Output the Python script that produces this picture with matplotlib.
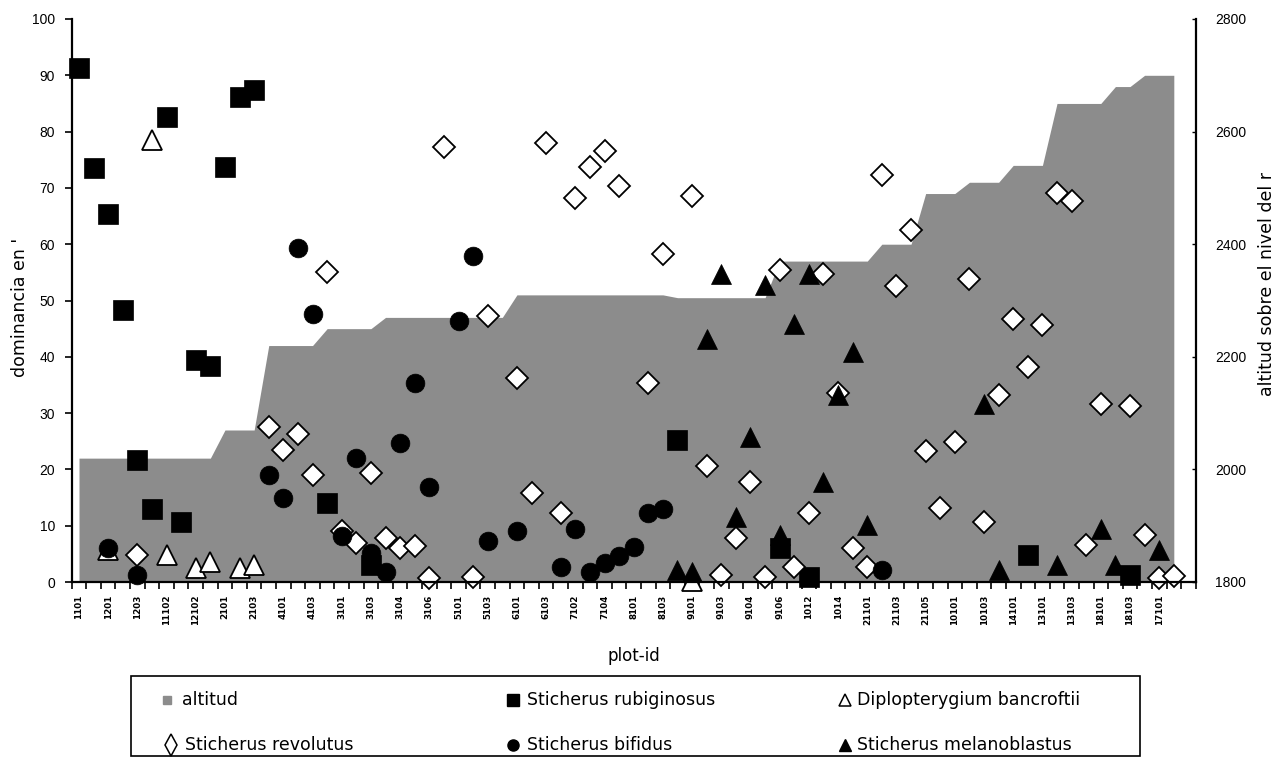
import matplotlib
matplotlib.use("Agg")
import matplotlib.pyplot as plt
from matplotlib.lines import Line2D
from matplotlib.patches import Rectangle
import numpy as np

plt.rcParams['font.family'] = ['DejaVu Sans']

# ---------------- data ----------------
n_categories = 77
plot_ids = ["1101", "1201", "1203", "11102", "12102", "2101", "2103", "4101",
            "4103", "3101", "3103", "3104", "3106", "5101", "5103", "6101",
            "6103", "7102", "7104", "8101", "8103", "9101", "9103", "9104",
            "9106", "1012", "1014", "21101", "21103", "21105", "10101", "10103",
            "14101", "13101", "13103", "18101", "18103", "17101"]

altitud = [2020, 2020, 2020, 2020, 2020, 2020, 2020, 2020, 2020, 2020,
           2070, 2070, 2070,
           2220, 2220, 2220, 2220,
           2250, 2250, 2250, 2250,
           2270, 2270, 2270, 2270, 2270, 2270, 2270, 2270, 2270,
           2310, 2310, 2310, 2310, 2310, 2310, 2310, 2310, 2310, 2310, 2310,
           2305, 2305, 2305, 2305, 2305, 2305, 2305,
           2370, 2370, 2370, 2370, 2370, 2370, 2370,
           2400, 2400, 2400,
           2490, 2490, 2490,
           2510, 2510, 2510,
           2540, 2540, 2540,
           2650, 2650, 2650, 2650,
           2680, 2680,
           2700, 2700, 2700]

rub_cat = [0, 1, 2, 3, 4, 5, 6, 7, 8, 9, 10, 11, 12, 17, 20, 41, 48, 50, 65, 72]
rub_val = [91.3, 73.6, 65.3, 48.4, 21.7, 13.0, 82.6, 10.6, 39.4, 38.3,
           73.8, 86.1, 87.4, 14.0, 3.0, 25.2, 6.0, 0.9, 4.8, 1.2]

dip_cat = [2, 5, 6, 8, 9, 11, 12, 42]
dip_val = [5.7, 78.5, 4.8, 2.4, 3.6, 2.4, 3.0, 0.2]

rev_cat = [4, 13, 14, 15, 16, 17, 18, 19, 20, 21, 22, 23, 24, 25, 27, 28,
           30, 31, 32, 33, 34, 35, 36, 37, 39, 40, 42, 43, 44, 45, 46, 47,
           48, 49, 50, 51, 52, 53, 54, 55, 56, 57, 58, 59, 60, 61, 62, 63,
           64, 65, 66, 67, 68, 69, 70, 72, 73, 74, 75]
rev_val = [4.8, 27.6, 23.4, 26.3, 19.0, 55.1, 9.0, 6.9, 19.3, 7.8, 6.0, 6.4,
           0.7, 77.3, 0.8, 47.2, 36.2, 15.8, 78.0, 12.2, 68.2, 73.8, 76.6,
           70.3, 35.3, 58.3, 68.6, 20.6, 1.2, 7.8, 17.8, 0.8, 55.4, 2.6,
           12.2, 54.7, 33.5, 6.0, 2.7, 72.3, 52.6, 62.6, 23.3, 13.1, 24.9,
           53.9, 10.7, 33.2, 46.8, 38.1, 45.6, 69.1, 67.7, 6.6, 31.6, 31.3,
           8.3, 0.7, 1.1]

bif_cat = [2, 4, 13, 14, 15, 16, 18, 19, 20, 21, 22, 23, 24, 26, 27, 28,
           30, 33, 34, 35, 36, 37, 38, 39, 40, 55]
bif_val = [6.0, 1.2, 19.0, 14.9, 59.4, 47.6, 8.1, 22.0, 5.1, 1.8, 24.7, 35.4,
           16.8, 46.3, 57.9, 7.3, 9.1, 2.6, 9.4, 1.8, 3.4, 4.6, 6.2, 12.3,
           12.9, 2.1]

mel_cat = [41, 42, 43, 44, 45, 46, 47, 48, 49, 50, 51, 52, 53, 54, 62, 63,
           67, 70, 71, 74]
mel_val = [2.1, 1.8, 43.1, 54.7, 11.6, 25.7, 52.8, 8.3, 45.8, 54.7, 17.8,
           33.2, 40.9, 10.1, 31.7, 2.1, 3.0, 9.4, 3.0, 5.7]

# ---------------- figure ----------------
W, H = 1285, 758
fig = plt.figure(figsize=(W / 100, H / 100), dpi=100)
fig.patch.set_facecolor('white')
ax_l, ax_r, ax_t, ax_b = 71.7, 1195.7, 19.0, 582.0
ax = fig.add_axes([ax_l / W, 1 - ax_b / H, (ax_r - ax_l) / W, (ax_b - ax_t) / H])
ax2 = ax.twinx()
ax.set_zorder(ax2.get_zorder() + 1)
ax.patch.set_visible(False)

GRAY = '#8c8c8c'

# area (secondary axis)
x_area = np.arange(len(altitud)) + 0.5
ax2.fill_between(x_area, altitud, 1800, color=GRAY, linewidth=0)
ax2.set_ylim(1800, 2800)
ax2.set_yticks(range(1800, 2801, 200))

def cx(cats):
    return np.asarray(cats) + 0.5

common = dict(linestyle='none', clip_on=False)
ax.plot(cx(rub_cat), rub_val, marker='s', ms=14, mfc='black', mec='black', mew=0.5, **common)
ax.plot(cx(dip_cat), dip_val, marker='^', ms=15, mfc='white', mec='black', mew=1.3, **common)
ax.plot(cx(rev_cat), rev_val, marker='D', ms=10.7, mfc='white', mec='black', mew=1.3, **common)
ax.plot(cx(bif_cat), bif_val, marker='o', ms=13.5, mfc='black', mec='black', mew=0.5, **common)
ax.plot(cx(mel_cat), mel_val, marker='^', ms=15, mfc='black', mec='black', mew=0.5, **common)

ax.set_xlim(0, n_categories)
ax.set_ylim(0, 100)
ax.set_yticks(range(0, 101, 10))

# spines
for s in ['top', 'right']:
    ax.spines[s].set_visible(False)
for s in ['top', 'left', 'bottom']:
    ax2.spines[s].set_visible(False)
ax.spines['left'].set_linewidth(1.6)
ax.spines['bottom'].set_linewidth(1.6)
ax2.spines['right'].set_linewidth(1.6)

# x ticks: marks at category boundaries, labels at every second category
ax.set_xticks(np.arange(0, n_categories + 1))
ax.set_xticklabels([])
ax.tick_params(axis='x', which='major', direction='out', length=5, width=1.2)
lab_pos = np.arange(0, 2 * len(plot_ids), 2) + 0.5
ax.set_xticks(lab_pos, minor=True)
ax.set_xticklabels(plot_ids, minor=True, rotation=90, fontsize=6.3,
                   fontweight='bold', va='top', ha='center')
ax.tick_params(axis='x', which='minor', length=0, pad=9)

ax.tick_params(axis='y', direction='out', length=5, width=1.2, labelsize=10, pad=7)
ax2.tick_params(axis='y', direction='in', length=3, width=1.0, labelsize=10, pad=14)
for t in ax.get_yticklabels() + ax2.get_yticklabels():
    t.set_family('Liberation Sans')

ax.set_ylabel("dominancia en '", fontsize=12.5)
ax.yaxis.set_label_coords(-0.038, 0.488)
ax2.set_ylabel("altitud sobre el nivel del r", fontsize=12.5, rotation=90)
ax2.yaxis.set_label_coords(1.055, 0.53)
ax.set_xlabel("plot-id", fontsize=12)
ax.xaxis.set_label_coords(0.5, -0.115)

# ---------------- legend box ----------------
def fx(px):
    return px / W

def fy(py):
    return 1 - py / H

fig.add_artist(Rectangle((fx(131), fy(756)), fx(1140) - fx(131), (756 - 676) / H,
                         transform=fig.transFigure, facecolor='white',
                         edgecolor='black', linewidth=1.2))

legend_items = [
    ("altitud", 167, 700, dict(marker='s', ms=6, mfc=GRAY, mec=GRAY), 182),
    ("Sticherus rubiginosus", 513, 700, dict(marker='s', ms=8, mfc='black', mec='black'), 527),
    ("Diplopterygium bancroftii", 845, 700, dict(marker='^', ms=9, mfc='white', mec='black', mew=1.1), 857),
    ("Sticherus revolutus", 171, 745, dict(marker='d', ms=11, mfc='white', mec='black', mew=1.1), 185),
    ("Sticherus bifidus", 513, 745, dict(marker='o', ms=8, mfc='black', mec='black'), 527),
    ("Sticherus melanoblastus", 845, 745, dict(marker='^', ms=9, mfc='black', mec='black'), 857),
]
for label, mx, my, mstyle, tx in legend_items:
    fig.add_artist(Line2D([fx(mx)], [fy(my)], transform=fig.transFigure,
                          linestyle='none', **mstyle))
    fig.text(fx(tx), fy(my), label, fontsize=12.5, ha='left', va='center')

fig.savefig("out.png", dpi=100, facecolor='white')
